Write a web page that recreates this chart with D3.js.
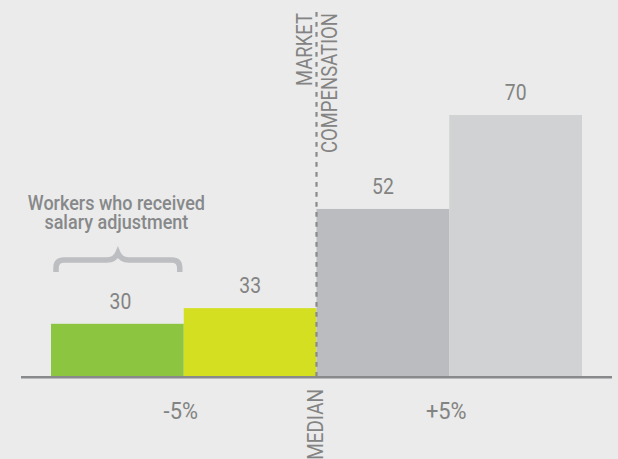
<!DOCTYPE html>
<html>
<head>
<meta charset="utf-8">
<script src="https://cdn.jsdelivr.net/npm/d3@7"></script>
<style>
  html, body { margin: 0; padding: 0; background: #eaebea; }
  svg { display: block; }
  text { font-family: Roboto, "Liberation Sans", sans-serif; }
</style>
</head>
<body>
<svg id="chart" width="618" height="459"></svg>
<script>
// ---- data ----
const categories = ["below -5%", "-5% to median", "median to +5%", "above +5%"];
const values = [30, 33, 52, 70];
const barColors = ["#8cc53f", "#d5df21", "#bbbcc0", "#d1d2d4"];
const boundaryLabels = ["-5%", "MEDIAN", "+5%"];      // at boundaries after category 0,1,2
const markerLines = ["MARKET", "COMPENSATION"];
const annotationLines = ["Workers who received", "salary adjustment"];

// ---- setup ----
const W = 618, H = 459;
const svg = d3.select("#chart");
svg.append("rect").attr("width", W).attr("height", H).attr("fill", "#eaebea");

const x = d3.scaleBand().domain(categories).range([51, 582]).padding(0);
const y = d3.scaleLinear().domain([20, 70]).range([376, 115]);

const textColor = "#838383";
const SX = 0.86; // condensed look

function addText(tx, ty, str, opts = {}) {
  const rot = opts.rotate ? ` rotate(${opts.rotate})` : "";
  return svg.append("text")
    .attr("transform", `translate(${tx},${ty})${rot} scale(${opts.sx || SX},1)`)
    .attr("text-anchor", opts.anchor || "middle")
    .attr("font-size", opts.size || 22)
    .attr("font-weight", opts.weight || 400)
    .attr("fill", opts.color || textColor)
    .text(str);
}

// bars
svg.append("g").selectAll("rect").data(categories).join("rect")
  .attr("x", d => x(d))
  .attr("width", x.bandwidth())
  .attr("y", (d, i) => y(values[i]))
  .attr("height", (d, i) => y.range()[0] - y(values[i]))
  .attr("fill", (d, i) => barColors[i]);

// value labels
categories.forEach((d, i) => {
  addText(x(d) + x.bandwidth() / 2 + (i === 0 ? 3 : 0), y(values[i]) - 15, values[i], { size: 22.5 });
});

// baseline axis
svg.append("line")
  .attr("x1", 21).attr("x2", 612)
  .attr("y1", 377.3).attr("y2", 377.3)
  .attr("stroke", "#88898b").attr("stroke-width", 2.6);

// boundary positions
const boundaryX = i => x(categories[i + 1]);

// median dashed line
const medX = boundaryX(1);
svg.append("line")
  .attr("x1", medX).attr("x2", medX)
  .attr("y1", 12).attr("y2", 376)
  .attr("stroke", "#8a8a8c").attr("stroke-width", 2.2)
  .attr("stroke-dasharray", "4.7,5.3");

// boundary labels -5% and +5%
[0, 2].forEach(i => {
  addText(boundaryX(i) - 3, 419, boundaryLabels[i], { size: 23, sx: 0.95 });
});

// MEDIAN rotated
addText(medX + 6.2, 389, boundaryLabels[1], { rotate: -90, anchor: "end", size: 22 });

// MARKET / COMPENSATION rotated
markerLines.forEach((t, i) => {
  addText(medX - 4.8 + i * 25, 13, t, { rotate: -90, anchor: "end", size: 21.5 });
});

// annotation
const annX = x(categories[0]) + x.bandwidth() / 2;
annotationLines.forEach((t, i) => {
  addText(annX - 1, 210 + i * 18.5, t, { size: 20, sx: 0.9, weight: 500, color: "#87888a" });
});

// brace over first bar
const bx0 = x(categories[0]) + 5, bx1 = x(categories[0]) + x.bandwidth() - 4;
const bm = (bx0 + bx1) / 2, by = 260, bp = 253, bb = 272;
const p = d3.path();
p.moveTo(bx0, bb);
p.lineTo(bx0, by + 8);
p.quadraticCurveTo(bx0, by, bx0 + 8, by);
p.lineTo(bm - 11, by);
p.quadraticCurveTo(bm - 3, by, bm, bp);
p.quadraticCurveTo(bm + 3, by, bm + 11, by);
p.lineTo(bx1 - 8, by);
p.quadraticCurveTo(bx1, by, bx1, by + 8);
p.lineTo(bx1, bb);
svg.append("path")
  .attr("d", p.toString())
  .attr("fill", "none")
  .attr("stroke", "#bdbec1")
  .attr("stroke-width", 5.5);
</script>
</body>
</html>
